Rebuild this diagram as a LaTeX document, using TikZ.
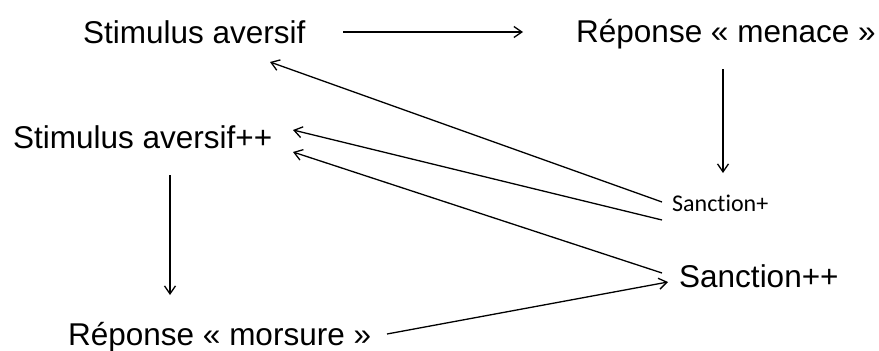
\documentclass[tikz,border=0pt]{standalone}
\usepackage{fontspec}
\setmainfont{Liberation Sans}
\newfontfamily\calib[Ligatures=NoCommon]{Carlito}
\usetikzlibrary{arrows.meta}
\begin{document}
\begin{tikzpicture}[x=1pt,y=-1pt,
  lbl/.style={anchor=base west,inner sep=0pt,font=\fontsize{31.5}{36}\selectfont},
  small/.style={anchor=base west,inner sep=0pt,font=\calib\fontsize{24}{28}\selectfont},
  arr/.style={line width=1.3pt,-{Straight Barb[length=8pt,width=11pt,line width=1.3pt]}}]
\useasboundingbox (0,0) rectangle (879,351);
\node[lbl] (sa) at (83,43) {Stimulus aversif};
\node[lbl] (rm) at (576,42) {Réponse «~menace~»};
\node[lbl] (sa2) at (13,148) {Stimulus aversif++};
\node[lbl] (rmo) at (68,345) {Réponse «~morsure~»};
\node[small] (s1) at (672,211) {Sanction+};
\node[lbl] (s2) at (679,287) {Sanction++};
\draw[arr] ([shift={(260,-11)}]sa.base west) -- ([shift={(-53,-10)}]rm.base west);
\draw[arr] ([shift={(147,27)}]rm.base west) -- ([shift={(51,-38)}]s1.base west);
\draw[arr] ([shift={(-10,-9)}]s1.base west) -- ([shift={(187,19)}]sa.base west);
\draw[arr] ([shift={(-10,9)}]s1.base west) -- ([shift={(280,-18)}]sa2.base west);
\draw[arr] ([shift={(-17,-14)}]s2.base west) -- ([shift={(280,4)}]sa2.base west);
\draw[arr] ([shift={(157,27)}]sa2.base west) -- ([shift={(102,-50)}]rmo.base west);
\draw[arr] ([shift={(319,-11)}]rmo.base west) -- ([shift={(-11,-5)}]s2.base west);
\end{tikzpicture}
\end{document}
